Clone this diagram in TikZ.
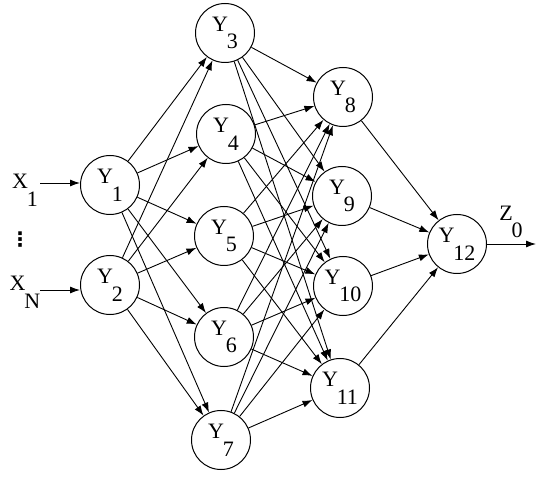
\documentclass[tikz,border=0pt]{standalone}
\usepackage{fontspec}
\setmainfont{Liberation Serif}
\newfontfamily\symfont{DejaVu Sans}
\usetikzlibrary{arrows.meta}
\newcommand{\lb}[2]{#1\hspace{-0.05em}\raisebox{-0.8em}{#2}}
\begin{document}
\begin{tikzpicture}[x=1pt,y=-1pt,
  neuron/.style={circle,draw,line width=1pt,minimum size=59pt,inner sep=0pt,font=\fontsize{22}{22}\selectfont},
  conn/.style={line width=0.9pt,-{Latex[length=10pt,width=7pt]}},
  plain/.style={font=\fontsize{22}{22}\selectfont,inner sep=0pt}]
\useasboundingbox (0,0) rectangle (544,481);
\node[neuron] (y1) at (110,185) {\lb{Y}{1}};
\node[neuron] (y2) at (110,285) {\lb{Y}{2}};
\node[neuron] (y3) at (225,33) {\lb{Y}{3}};
\node[neuron] (y4) at (226,134) {\lb{Y}{4}};
\node[neuron] (y5) at (224,236) {\lb{Y}{5}};
\node[neuron] (y6) at (224,337) {\lb{Y}{6}};
\node[neuron] (y7) at (221,440) {\lb{Y}{7}};
\node[neuron] (y8) at (343,97) {\lb{Y}{8}};
\node[neuron] (y9) at (342,196) {\lb{Y}{9}};
\node[neuron] (y10) at (343,286) {\lb{Y}{10}};
\node[neuron] (y11) at (340,388) {\lb{Y}{11}};
\node[neuron] (y12) at (457,244) {\lb{Y}{12}};
\node[plain] (x1) at (25,190) {\lb{X}{1}};
\node[plain] (xn) at (25,292) {\lb{X}{N}};
\node[font=\fontsize{20}{20}\symfont\bfseries,inner sep=0pt] (dots) at (20,240) {⋮};
\node[plain] (z0) at (511,222) {\lb{Z}{0}};
\coordinate (xs1) at (40,183);
\coordinate (xsn) at (40,290);
\coordinate (zo) at (536,244);
\draw[conn] (xs1) -- (y1.west |- xs1);
\draw[conn] (xsn) -- (y2.west |- xsn);
\foreach \a in {y1,y2}
  \foreach \b in {y3,y4,y5,y6,y7}
    \draw[conn] (\a) -- (\b);
\foreach \a in {y3,y4,y5,y6,y7}
  \foreach \b in {y8,y9,y10,y11}
    \draw[conn] (\a) -- (\b);
\foreach \a in {y8,y9,y10,y11}
  \draw[conn] (\a) -- (y12);
\draw[conn] (y12) -- (zo);
\end{tikzpicture}
\end{document}
